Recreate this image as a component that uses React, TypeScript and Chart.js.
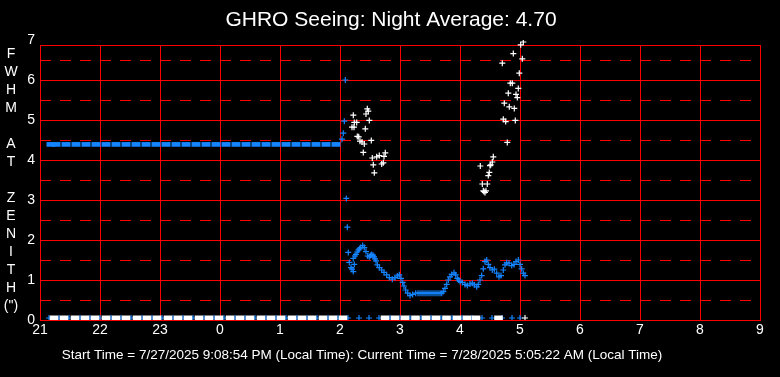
import React, { useEffect, useRef } from 'react';
import { Chart, registerables } from 'chart.js';

Chart.register(...registerables);

// ---------- text ----------
const TITLE = 'GHRO Seeing: Night Average: 4.70';
const FOOTER =
  'Start Time = 7/27/2025 9:08:54 PM (Local Time): Current Time = 7/28/2025 5:05:22 AM (Local Time)';
const Y_LABEL_LINES = ['F', 'W', 'H', 'M', '', 'A', 'T', '', 'Z', 'E', 'N', 'I', 'T', 'H', '(")'];

// ---------- axes (x = minutes after 21:00) ----------
const X_START_HOUR = 21;
const X_TICK_MINUTES = [0, 60, 120, 180, 240, 300, 360, 420, 480, 540, 600, 660, 720];
const Y_TICKS = [0, 1, 2, 3, 4, 5, 6, 7];
const Y_SOLID_LINES = [0, 1, 2, 3, 4, 5, 6];
const Y_DASHED_LINES = [0.5, 1.5, 2.5, 3.5, 4.5, 5.5, 6.5];
const FRAME_TOP = 6.875;

// ---------- data ----------
// blue: steady reading before 2:00 (dense, drawn as bars)
const blueBaseMin = [11, 16, 26, 36, 46, 56, 66, 76, 86, 96, 106, 116, 126, 136, 146, 156, 166, 176, 186, 196, 206, 216, 226, 236, 246, 256, 266, 276, 286, 296];
const blueBaseVal = [4.39, 4.39, 4.39, 4.39, 4.39, 4.39, 4.39, 4.39, 4.39, 4.39, 4.39, 4.39, 4.39, 4.39, 4.39, 4.39, 4.39, 4.39, 4.39, 4.39, 4.39, 4.39, 4.39, 4.39, 4.39, 4.39, 4.39, 4.39, 4.39, 4.39];

// blue: readings after 2:00
const blueCurveMin = [
  302, 303.3, 304.3, 305.3, 306.3, 307.3, 308.3, 309.3, 311, 312, 313.3, 314.3, 313.3, 315, 316, 317.2, 318.3, 319.5,
  320.7, 322.7, 324.3, 326, 327.7, 329.3, 330.5, 331.7, 333, 334, 335, 336, 337.3, 339.3, 341.7, 344, 346.7, 349.3,
  352.3, 355, 357.3, 359.3, 361, 362.7, 364, 365.7, 367.7, 370, 372.7, 375.7, 378, 380, 382, 384, 386, 388, 390, 392,
  394, 396, 398, 400, 401.7, 403.3, 405, 406.7, 408.3, 410, 411.7, 414, 415.7, 417.3, 418.7, 420, 422.3, 425, 427.3,
  430, 432.3, 434.3, 436.7, 438.3, 440, 441.7, 443.3, 445, 446.7, 448.3, 450, 452.3, 454.3, 456.7, 459, 461, 463.3,
  465, 466.7, 469, 471.7, 474, 476, 478.3, 480, 481.7, 483.3, 485,
];
const blueCurveVal = [
  4.52, 4.67, 4.97, 6.0, 3.04, 2.32, 1.69, 1.44, 1.31, 1.27, 1.21, 1.39, 1.54, 1.6, 1.64, 1.7, 1.75, 1.78,
  1.81, 1.86, 1.81, 1.71, 1.6, 1.58, 1.61, 1.64, 1.62, 1.58, 1.53, 1.48, 1.38, 1.31, 1.25, 1.19, 1.13, 1.06,
  1.02, 1.06, 1.1, 1.13, 1.04, 0.94, 0.85, 0.75, 0.67, 0.61, 0.64, 0.67, 0.67, 0.67, 0.67, 0.67, 0.67, 0.67, 0.67, 0.67,
  0.67, 0.67, 0.67, 0.67, 0.67, 0.71, 0.79, 0.89, 1.0, 1.08, 1.14, 1.18, 1.13, 1.04, 1.0, 0.96, 0.94, 0.89, 0.86,
  0.9, 0.92, 0.88, 0.83, 0.89, 1.0, 1.11, 1.28, 1.46, 1.5, 1.39, 1.31, 1.25, 1.27, 1.17, 1.08, 1.11, 1.25,
  1.38, 1.43, 1.42, 1.36, 1.39, 1.46, 1.5, 1.39, 1.28, 1.17, 1.11,
];

// white: individual readings
const whiteMin = [
  313.3, 327.3, 328.3, 326, 329.3, 316.7, 314.3, 314, 312, 325.3, 317.3, 318.7, 320, 322, 324.3, 331.3, 323.3, 332.3,
  336.7, 339.3, 345.3, 344, 333.3, 341.7, 343.3, 334.3,
  483.3, 480.7, 473.3, 482.3, 462.3, 479.3, 470.3, 472.3, 478.3, 468.3, 476, 477.3, 464.3, 469.3, 474.3, 463.3, 465.7,
  475.3, 467.3, 453.3, 452.3, 450.7, 450, 440.3, 449.3, 448.3, 442.3, 447.3, 443.3, 445, 446, 444,
  485,
];
const whiteVal = [
  5.12, 5.28, 5.22, 5.15, 4.99, 4.94, 4.94, 4.82, 4.82, 4.78, 4.59, 4.58, 4.47, 4.45, 4.4, 4.49, 4.19, 4.05,
  4.08, 4.11, 4.18, 4.09, 3.88, 3.9, 3.93, 3.68,
  6.95, 6.88, 6.66, 6.53, 6.42, 6.17, 5.92, 5.92, 5.79, 5.67, 5.64, 5.56, 5.42, 5.33, 5.29, 5.02, 4.96,
  4.99, 4.44, 4.08, 3.95, 3.88, 3.86, 3.85, 3.69, 3.61, 3.4, 3.4, 3.23, 3.19, 3.23, 3.21,
  0.05,
];

// zero readings along the bottom
const whiteZeroMin = [
  14, 24, 35, 45, 55, 66, 76, 86, 97, 107, 117, 128, 138, 148, 159, 169, 179, 190, 200, 210, 221, 231, 241, 252, 262,
  272, 283, 293, 303, 345, 355, 365, 375.5, 386, 396, 406.5, 417, 427, 436, 458.5,
];
const whiteZeroVal = [
  0.05, 0.05, 0.05, 0.05, 0.05, 0.05, 0.05, 0.05, 0.05, 0.05, 0.05, 0.05, 0.05, 0.05, 0.05, 0.05, 0.05, 0.05, 0.05,
  0.05, 0.05, 0.05, 0.05, 0.05, 0.05, 0.05, 0.05, 0.05, 0.05, 0.05, 0.05, 0.05, 0.05, 0.05, 0.05, 0.05, 0.05, 0.05,
  0.05, 0.05,
];
const blueZeroMin = [
  9, 19, 29, 40, 50, 60, 71, 81, 91, 102, 112, 122, 133, 143, 153, 164, 174, 184, 195, 205, 215, 226, 236, 246, 257,
  267, 277, 288, 298, 308, 319, 329, 339, 350, 360, 370, 381, 391, 401, 412, 422, 432, 442, 452, 462, 472, 480,
];
const blueZeroVal = [
  0.05, 0.05, 0.05, 0.05, 0.05, 0.05, 0.05, 0.05, 0.05, 0.05, 0.05, 0.05, 0.05, 0.05, 0.05, 0.05, 0.05, 0.05, 0.05,
  0.05, 0.05, 0.05, 0.05, 0.05, 0.05, 0.05, 0.05, 0.05, 0.05, 0.05, 0.05, 0.05, 0.05, 0.05, 0.05, 0.05, 0.05, 0.05,
  0.05, 0.05, 0.05, 0.05, 0.05, 0.05, 0.05, 0.05, 0.05,
];

const BLUE = '#1584FF';
const WHITE = '#FFFFFF';
const RED = '#FF0000';
const FONT = '"Liberation Sans", Arial, sans-serif';

const pts = (xs: number[], ys: number[]) => xs.map((x, i) => ({ x, y: ys[i] }));

const framePlugin = {
  id: 'frame',
  beforeDatasetsDraw(chart: any) {
    const { ctx, scales } = chart;
    const x = scales.x;
    const y = scales.y;
    const left = Math.round(x.getPixelForValue(X_TICK_MINUTES[0]));
    const right = Math.round(x.getPixelForValue(X_TICK_MINUTES[X_TICK_MINUTES.length - 1]));
    const top = Math.round(y.getPixelForValue(FRAME_TOP));
    const bottom = Math.round(y.getPixelForValue(0));
    ctx.save();
    ctx.strokeStyle = RED;
    ctx.lineWidth = 1;
    ctx.beginPath();
    for (const m of X_TICK_MINUTES) {
      const px = Math.round(x.getPixelForValue(m)) + 0.5;
      ctx.moveTo(px, top);
      ctx.lineTo(px, bottom + 1);
    }
    for (const v of [...Y_SOLID_LINES, FRAME_TOP]) {
      const py = Math.round(y.getPixelForValue(v)) + 0.5;
      ctx.moveTo(left, py);
      ctx.lineTo(right + 1, py);
    }
    ctx.stroke();
    ctx.setLineDash([11, 9]);
    ctx.beginPath();
    for (const v of Y_DASHED_LINES) {
      const py = Math.round(y.getPixelForValue(v)) + 0.5;
      ctx.moveTo(left, py);
      ctx.lineTo(right + 1, py);
    }
    ctx.stroke();
    ctx.restore();
  },
  afterDraw(chart: any) {
    const { ctx } = chart;
    ctx.save();
    ctx.fillStyle = WHITE;
    ctx.textAlign = 'center';
    ctx.textBaseline = 'alphabetic';
    ctx.font = `21px ${FONT}`;
    ctx.fillText(TITLE, 391, 26);
    ctx.font = `14px ${FONT}`;
    Y_LABEL_LINES.forEach((s, i) => {
      if (s) ctx.fillText(s, 11, 58 + 18 * i);
    });
    ctx.font = `13.5px ${FONT}`;
    ctx.fillText(FOOTER, 362, 359);
    ctx.restore();
  },
};

export default function App() {
  const ref = useRef<HTMLCanvasElement | null>(null);
  useEffect(() => {
    document.body.style.margin = '0';
    document.body.style.background = '#000';
    const canvas = ref.current;
    if (!canvas) return;
    const crossDs = (label: string, data: any[], color: string, order: number) => ({
      label,
      data,
      pointStyle: 'cross',
      pointRadius: 3,
      pointBorderWidth: 1.2,
      pointBorderColor: color,
      pointBackgroundColor: color,
      order,
    });
    const barDs = (label: string, data: any[], color: string, order: number, r: number, w: number) => ({
      label,
      data,
      pointStyle: 'line',
      pointRadius: r,
      pointBorderWidth: w,
      pointBorderColor: color,
      pointBackgroundColor: color,
      order,
    });
    const chart = new Chart(canvas, {
      type: 'scatter',
      data: {
        datasets: [
          crossDs('white', pts(whiteMin, whiteVal), WHITE, 0),
          barDs('white zero', pts(whiteZeroMin, whiteZeroVal), WHITE, 1, 4.3, 5),
          crossDs('blue zero', pts(blueZeroMin, blueZeroVal), BLUE, 2),
          crossDs('blue', pts(blueCurveMin, blueCurveVal), BLUE, 3),
          barDs('blue base', pts(blueBaseMin, blueBaseVal), BLUE, 4, 4.5, 4.7),
        ] as any,
      },
      options: {
        responsive: false,
        animation: false,
        events: [],
        layout: { padding: { top: 40, right: 20, left: 0, bottom: 0 } },
        plugins: {
          legend: { display: false },
          tooltip: { enabled: false },
          title: { display: false },
        },
        scales: {
          x: {
            type: 'linear',
            min: 0,
            max: 720,
            grid: { display: false, drawTicks: false },
            border: { display: false },
            afterBuildTicks: (s: any) => {
              s.ticks = X_TICK_MINUTES.map((v) => ({ value: v }));
            },
            afterFit: (s: any) => {
              s.height = 57;
              s.paddingLeft = 0;
              s.paddingRight = 0;
            },
            ticks: {
              color: WHITE,
              font: { family: FONT, size: 14 },
              padding: 2,
              maxRotation: 0,
              autoSkip: false,
              callback: (v: any) => String((X_START_HOUR + Number(v) / 60) % 24),
            },
          },
          y: {
            type: 'linear',
            min: 0,
            max: 7,
            grid: { display: false, drawTicks: false },
            border: { display: false },
            afterBuildTicks: (s: any) => {
              s.ticks = Y_TICKS.map((v) => ({ value: v }));
            },
            afterFit: (s: any) => {
              s.width = 40;
              s.paddingTop = 0;
              s.paddingBottom = 0;
            },
            ticks: {
              color: WHITE,
              font: { family: FONT, size: 14 },
              padding: 5,
              autoSkip: false,
            },
          },
        },
      } as any,
      plugins: [framePlugin],
    });
    return () => chart.destroy();
  }, []);
  return (
    <div style={{ position: 'fixed', left: 0, top: 0, width: 780, height: 377, background: '#000' }}>
      <canvas ref={ref} width={780} height={377} style={{ display: 'block', width: 780, height: 377 }} />
    </div>
  );
}
